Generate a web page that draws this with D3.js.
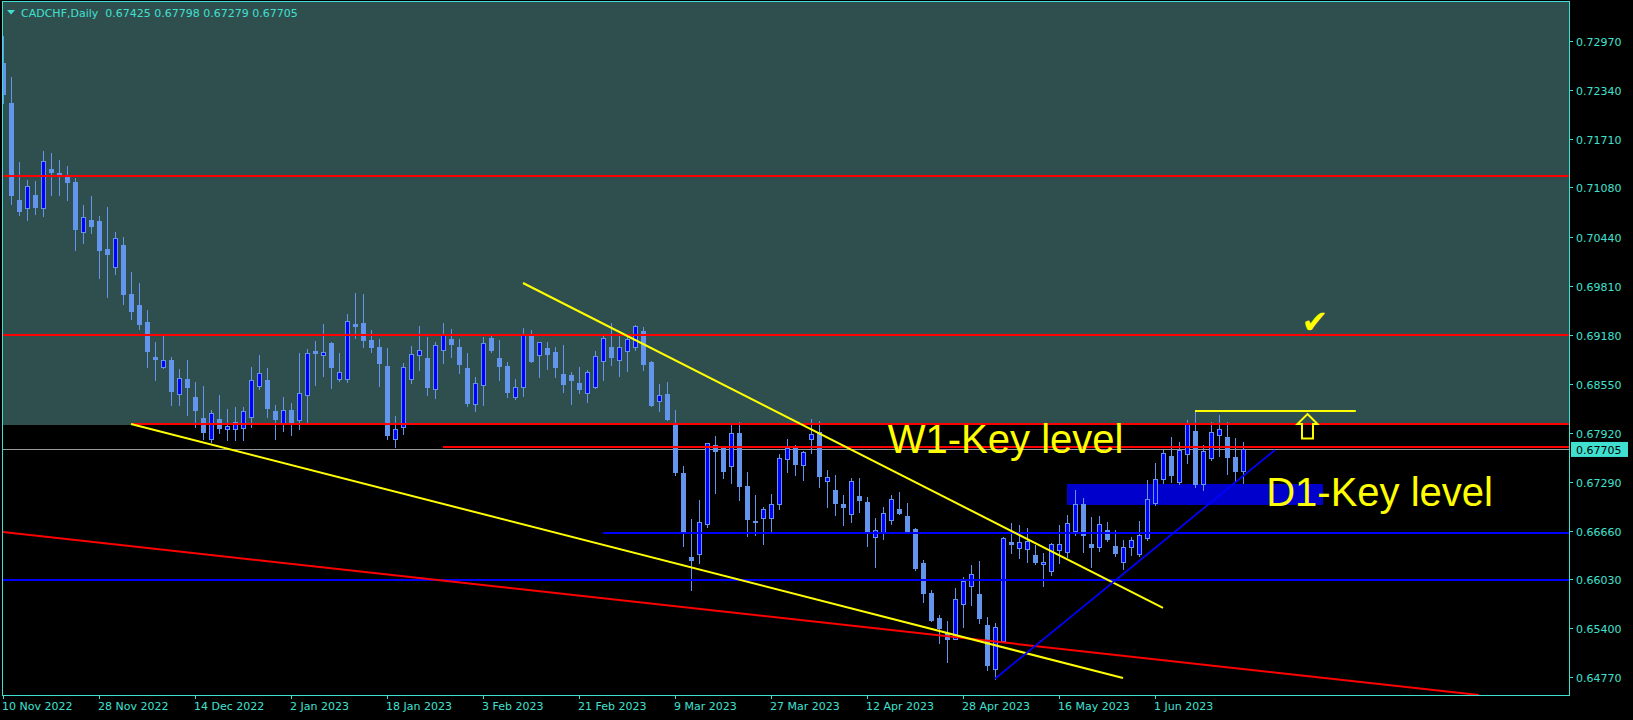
<!DOCTYPE html>
<html><head><meta charset="utf-8">
<script src="https://cdn.jsdelivr.net/npm/d3@7"></script>
<style>html,body{margin:0;padding:0;background:#000;overflow:hidden}</style>
</head><body><svg id="c" width="1633" height="720"></svg>
<script>
// ---------------- data ----------------
const symbolTitle = "CADCHF,Daily";
const lastOHLC = [0.67425, 0.67798, 0.67279, 0.67705];
const bidPrice = 0.67705;

const opens = [0.72683,0.72167,0.70918,0.70819,0.70982,0.70819,0.71317,0.71266,0.71218,0.71150,
0.70510,0.70660,0.70648,0.70287,0.70059,0.70338,0.69707,0.69566,0.69347,0.68896,
0.68771,0.68857,0.68415,0.68612,0.68381,0.68110,0.67844,0.68097,0.67972,0.67972,
0.67985,0.68127,0.68526,0.68599,0.68200,0.68037,0.68213,0.68088,0.68410,0.68973,
0.68925,0.69076,0.68616,0.68616,0.69317,0.69334,0.69111,0.69021,0.68780,0.67840,
0.67990,0.68616,0.68917,0.68883,0.68480,0.68982,0.69124,0.69025,0.68750,0.68287,
0.68531,0.69136,0.68883,0.68780,0.68377,0.68513,0.69183,0.68917,0.69012,0.68960,
0.68677,0.68664,0.68561,0.68436,0.68505,0.68840,0.69025,0.68853,0.68969,0.69021,
0.69226,0.68827,0.68325,0.68415,0.68050,0.67401,0.66323,0.66361,0.66750,0.67758,
0.67723,0.67487,0.67921,0.67230,0.66783,0.66818,0.66828,0.66998,0.67578,0.67720,
0.67500,0.67836,0.67926,0.67302,0.67182,0.67002,0.66869,0.67101,0.67024,0.66581,
0.66637,0.66800,0.66938,0.66844,0.66676,0.66238,0.65859,0.65530,0.65340,0.65267,
0.65710,0.65950,0.65843,0.65443,0.64873,0.65234,0.66513,0.66439,0.66419,0.66345,
0.66225,0.66139,0.66410,0.66380,0.66658,0.66998,0.66487,0.66444,0.66663,0.66461,
0.66259,0.66452,0.66358,0.66568,0.67019,0.67328,0.67620,0.67289,0.67646,0.67943,
0.67256,0.67598,0.67887,0.67871,0.67604,0.67425];

const highs = [0.73030,0.72502,0.71407,0.71176,0.71163,0.71549,0.71523,0.71433,0.71356,0.71201,
0.70854,0.70970,0.70712,0.70828,0.70506,0.70441,0.69991,0.69849,0.69501,0.69089,
0.69183,0.68900,0.68737,0.68857,0.68574,0.68522,0.68213,0.68406,0.68226,0.68252,
0.68252,0.68767,0.68922,0.68754,0.68278,0.68381,0.68303,0.68947,0.68999,0.69102,
0.69321,0.69089,0.68947,0.69450,0.69720,0.69707,0.69244,0.69128,0.69012,0.68136,
0.68815,0.69038,0.69295,0.69157,0.69089,0.69338,0.69252,0.69124,0.68943,0.68642,
0.69149,0.69179,0.69115,0.68831,0.68612,0.69265,0.69244,0.69095,0.69093,0.69028,
0.69050,0.68702,0.68767,0.68728,0.68977,0.69188,0.69330,0.69188,0.69188,0.69308,
0.69278,0.68840,0.68544,0.68574,0.68213,0.67491,0.66808,0.67053,0.67792,0.67878,
0.67753,0.68020,0.68059,0.67414,0.67118,0.66963,0.67127,0.67650,0.67840,0.67762,
0.67681,0.68097,0.68071,0.67440,0.67376,0.67118,0.67337,0.67337,0.67088,0.66821,
0.66963,0.67118,0.67157,0.67011,0.66697,0.66281,0.65890,0.65568,0.65499,0.65924,
0.66058,0.66216,0.66264,0.65543,0.65465,0.66573,0.66753,0.66732,0.66697,0.66474,
0.66367,0.66496,0.66728,0.66864,0.67182,0.67075,0.66838,0.66847,0.66770,0.66667,
0.66542,0.66581,0.66783,0.67311,0.67534,0.67698,0.67865,0.67801,0.68084,0.68204,
0.67758,0.68062,0.68148,0.68054,0.67848,0.67798];

const lows = [0.72167,0.70870,0.70725,0.70660,0.70738,0.70712,0.70982,0.70982,0.70918,0.70274,
0.70364,0.70493,0.69913,0.69669,0.69969,0.69582,0.69385,0.69260,0.68771,0.68603,
0.68754,0.68281,0.68281,0.68153,0.67990,0.67840,0.67801,0.67921,0.67826,0.67826,
0.67826,0.67998,0.68488,0.68127,0.67844,0.67947,0.67895,0.67972,0.68063,0.68539,
0.68655,0.68500,0.68591,0.68578,0.69141,0.69021,0.68960,0.68526,0.67840,0.67737,
0.67904,0.68565,0.68728,0.68406,0.68364,0.68822,0.68900,0.68693,0.68265,0.68204,
0.68281,0.68960,0.68599,0.68385,0.68355,0.68393,0.68831,0.68642,0.68745,0.68642,
0.68449,0.68294,0.68436,0.68316,0.68496,0.68599,0.68792,0.68651,0.68719,0.68982,
0.68732,0.68270,0.68204,0.68088,0.67379,0.66464,0.65894,0.66245,0.66709,0.67147,
0.67341,0.67276,0.67057,0.66593,0.66607,0.66487,0.66637,0.66941,0.67418,0.67379,
0.67315,0.67659,0.67225,0.66967,0.66860,0.66732,0.66774,0.66903,0.66464,0.66195,
0.66555,0.66748,0.66877,0.66628,0.66152,0.65740,0.65491,0.65208,0.64971,0.65263,
0.65422,0.65705,0.65473,0.64868,0.64752,0.65225,0.66375,0.66310,0.66259,0.66229,
0.65950,0.66088,0.66246,0.66323,0.66603,0.66380,0.66195,0.66401,0.66525,0.66332,
0.66165,0.66345,0.66332,0.66538,0.66989,0.67269,0.67285,0.67256,0.67530,0.67221,
0.67182,0.67569,0.67620,0.67392,0.67298,0.67279];

const closes = [0.72283,0.70986,0.70776,0.71098,0.70828,0.71420,0.71279,0.71240,0.71150,0.70545,
0.70699,0.70587,0.70274,0.70222,0.70429,0.69711,0.69492,0.69325,0.68977,0.68874,
0.68853,0.68462,0.68621,0.68513,0.68217,0.67934,0.68175,0.67985,0.68007,0.68059,
0.68200,0.68596,0.68690,0.68243,0.68101,0.68213,0.68050,0.68432,0.68947,0.68947,
0.68960,0.68771,0.68699,0.69356,0.69299,0.69119,0.69021,0.68822,0.67891,0.67969,
0.68763,0.68934,0.68986,0.68513,0.69047,0.69175,0.69067,0.68809,0.68307,0.68557,
0.69072,0.68990,0.68784,0.68449,0.68505,0.69192,0.68844,0.69089,0.68938,0.68767,
0.68552,0.68599,0.68484,0.68702,0.68904,0.69136,0.68896,0.69021,0.69124,0.69291,
0.68809,0.68281,0.68410,0.68101,0.67414,0.66641,0.66284,0.66766,0.67784,0.67689,
0.67431,0.67921,0.67238,0.66812,0.66774,0.66934,0.66998,0.67591,0.67720,0.67521,
0.67668,0.67904,0.67363,0.67346,0.67018,0.66959,0.67298,0.67057,0.66658,0.66663,
0.66882,0.67062,0.66890,0.66641,0.66174,0.65852,0.65511,0.65401,0.65267,0.65782,
0.66010,0.66096,0.65537,0.64924,0.65414,0.66560,0.66491,0.66513,0.66526,0.66251,
0.66255,0.66483,0.66483,0.66753,0.66998,0.66603,0.66452,0.66741,0.66555,0.66367,
0.66444,0.66538,0.66603,0.67066,0.67324,0.67655,0.67379,0.67704,0.68029,0.67256,
0.67681,0.67926,0.67964,0.67611,0.67427,0.67705];

const dateLabels = ["10 Nov 2022","28 Nov 2022","14 Dec 2022","2 Jan 2023","18 Jan 2023","3 Feb 2023",
  "21 Feb 2023","9 Mar 2023","27 Mar 2023","12 Apr 2023","28 Apr 2023","16 May 2023","1 Jun 2023"];
const dateLabelBars = [0,12,24,36,48,60,72,84,96,108,120,132,144];
const priceTicks = [0.72970,0.72340,0.71710,0.71080,0.70440,0.69810,0.69180,0.68550,
  0.67920,0.67290,0.66660,0.66030,0.65400,0.64770];

// horizontal levels (price, first bar)
const redLevelPrices = [0.71231, 0.69185, 0.68033, 0.67736];
const redLevelStartBars = [0, 0, 16, 55];
const blueLevelPrices = [0.66633, 0.66023];
const blueLevelStartBars = [75, 0];
// trend lines [bar1, price1, bar2, price2]
const yellowTrends = [[65, 0.69849, 145, 0.65663], [16, 0.68033, 140, 0.64761]];
const redTrend = [0, 0.66641, 184.5, 0.64542];
const blueTrend = [124, 0.64752, 159, 0.67698];
const yellowShort = [149, 169.1, 0.68204];
const w1ZoneTop = 0.6803;          // dark zone: above this price
const d1Zone = [133, 165, 0.67260, 0.66990];
const w1Label = {text: "W1-Key level", bar: 110.6, price: 0.67655};
const d1Label = {text: "D1-Key level", bar: 157.9, price: 0.66976};
const checkMark = {bar: 162.3, price: 0.69205};
const upArrow = {bar: 163.06, price: 0.68161};

// ---------------- drawing ----------------
const AX = "#40E0D0", WICK = "#6495ED", BULL = "#0000FF";
const svg = d3.select("#c");
const L = 3, R = 1569, T = 1, B = 695;
const x = d3.scaleLinear().domain([0, 195.75]).range([L, R]);
const y = d3.scaleLinear().domain([0.64770, 0.72970]).range([677.3, 40.7]);

svg.append("rect").attr("width",1633).attr("height",720).attr("fill","#000");
svg.append("defs").append("clipPath").attr("id","clip")
  .append("rect").attr("x",L).attr("y",T+1).attr("width",R-L).attr("height",B-T-1);

const plot = svg.append("g").attr("clip-path","url(#clip)");

// dark W1 zone
plot.append("rect").attr("x",L).attr("y",T).attr("width",R-L)
  .attr("height", Math.round(y(w1ZoneTop)) - T + 1).attr("fill","#2F4F4F");

// D1 zone
plot.append("rect").attr("x",x(d1Zone[0])).attr("width",x(d1Zone[1])-x(d1Zone[0]))
  .attr("y",y(d1Zone[2])).attr("height",y(d1Zone[3])-y(d1Zone[2])).attr("fill","#0000CD");

// bid line
plot.append("line").attr("x1",L).attr("x2",R)
  .attr("y1",Math.round(y(bidPrice))+0.5).attr("y2",Math.round(y(bidPrice))+0.5)
  .attr("stroke","#9a9a9a").attr("stroke-width",1);

// candles
const bars = opens.map((o,i)=>({i,o,h:highs[i],l:lows[i],c:closes[i]}));
const cg = plot.append("g").selectAll("g").data(bars).join("g");
cg.append("rect")
  .attr("x",d=>Math.round(x(d.i)))
  .attr("y",d=>Math.round(y(d.h)))
  .attr("width",1)
  .attr("height",d=>Math.max(1,Math.round(y(d.l))-Math.round(y(d.h))+1))
  .attr("fill",WICK);
const bt = d=>Math.round(y(Math.max(d.o,d.c)));
const bb = d=>Math.round(y(Math.min(d.o,d.c)));
cg.append("rect")
  .attr("x",d=>Math.round(x(d.i))-2).attr("y",bt).attr("width",5)
  .attr("height",d=>Math.max(1,bb(d)-bt(d)+1)).attr("fill",WICK);
cg.filter(d=>d.c>d.o && bb(d)-bt(d)>=2).append("rect")
  .attr("x",d=>Math.round(x(d.i))-1).attr("y",d=>bt(d)+1).attr("width",3)
  .attr("height",d=>bb(d)-bt(d)-1).attr("fill",BULL);

// horizontal levels
redLevelPrices.forEach((p,k)=>{
  const yy = Math.round(y(p));
  plot.append("line").attr("x1",x(redLevelStartBars[k])).attr("x2",R).attr("y1",yy).attr("y2",yy)
    .attr("stroke","#FF0000").attr("stroke-width",2);
});
blueLevelPrices.forEach((p,k)=>{
  const yy = Math.round(y(p));
  plot.append("line").attr("x1",x(blueLevelStartBars[k])).attr("x2",R).attr("y1",yy).attr("y2",yy)
    .attr("stroke","#0000FF").attr("stroke-width",2);
});

// trend lines
const seg = (t,color,w)=>plot.append("line")
  .attr("x1",x(t[0])).attr("y1",y(t[1])).attr("x2",x(t[2])).attr("y2",y(t[3]))
  .attr("stroke",color).attr("stroke-width",w);
seg(redTrend,"#FF0000",2);
yellowTrends.forEach(t=>seg(t,"#FFFF00",2));
seg(blueTrend,"#0000FF",1.8);
plot.append("line").attr("x1",x(yellowShort[0])).attr("x2",x(yellowShort[1]))
  .attr("y1",Math.round(y(yellowShort[2]))).attr("y2",Math.round(y(yellowShort[2])))
  .attr("stroke","#FFFF00").attr("stroke-width",2);

// labels
[w1Label,d1Label].forEach(lb=>{
  plot.append("text").attr("x",x(lb.bar)).attr("y",y(lb.price))
    .attr("font-family","'Liberation Sans', Arial, sans-serif").attr("font-size",40)
    .attr("fill","#FFFF00").text(lb.text);
});
plot.append("text").attr("x",x(checkMark.bar)).attr("y",y(checkMark.price))
  .attr("font-family","'DejaVu Sans', sans-serif").attr("font-size",32)
  .attr("fill","#FFFF00").text("\u2714");
{
  const cx = x(upArrow.bar), ty = y(upArrow.price);
  const pts = [[0,0],[10,10],[5.5,10],[5.5,24.5],[-5.5,24.5],[-5.5,10],[-10,10]];
  plot.append("path").attr("d", d3.line()(pts.map(p=>[cx+p[0], ty+p[1]])) + "Z")
    .attr("fill","none").attr("stroke","#FFFF00").attr("stroke-width",2);
}

// frame
svg.append("rect").attr("x",L-0.5).attr("y",T+0.5).attr("width",R-L+1).attr("height",B-T)
  .attr("fill","none").attr("stroke",AX).attr("stroke-width",1);

// price axis
const fnt = "'DejaVu Sans', sans-serif";
priceTicks.forEach(p=>{
  const yy = Math.round(y(p));
  svg.append("line").attr("x1",R).attr("x2",R+4).attr("y1",yy+0.5).attr("y2",yy+0.5).attr("stroke",AX);
  svg.append("text").attr("x",R+7).attr("y",yy+4.5).attr("font-family",fnt).attr("font-size",11)
    .attr("fill",AX).text(d3.format(".5f")(p));
});
{
  const yy = y(bidPrice);
  svg.append("rect").attr("x",R+2).attr("y",yy-7.5).attr("width",57).attr("height",15).attr("fill",AX);
  svg.append("text").attr("x",R+7).attr("y",yy+4.5).attr("font-family",fnt).attr("font-size",11)
    .attr("fill","#000").text(d3.format(".5f")(bidPrice));
}

// time axis
dateLabelBars.forEach((b,k)=>{
  const xx = Math.round(x(b));
  svg.append("line").attr("x1",xx+0.5).attr("x2",xx+0.5).attr("y1",B).attr("y2",B+4).attr("stroke",AX);
  svg.append("text").attr("x",xx-1).attr("y",710).attr("font-family",fnt).attr("font-size",11)
    .attr("fill",AX).text(dateLabels[k]);
});

// header
svg.append("path").attr("d","M7,10 L15,10 L11,14.5 Z").attr("fill",AX);
svg.append("text").attr("x",21).attr("y",17).attr("font-family",fnt).attr("font-size",11)
  .attr("fill",AX).attr("xml:space","preserve")
  .text(symbolTitle + "  " + lastOHLC.map(v=>d3.format(".5f")(v)).join(" "));
</script></body></html>
